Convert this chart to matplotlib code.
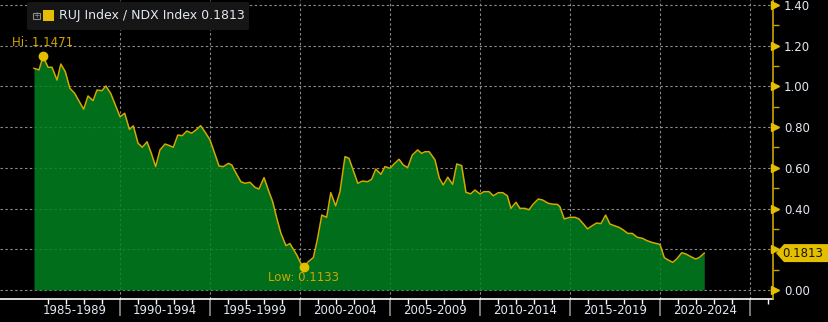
import numpy as np
import matplotlib
matplotlib.use("Agg")
import matplotlib.pyplot as plt
import matplotlib.transforms as mtransforms
from matplotlib.patches import FancyBboxPatch, Rectangle, Polygon

# ---- data ----
years = [1985.22, 1985.50, 1985.72, 1986.00, 1986.22, 1986.50, 1986.71, 1986.96, 1987.21, 1987.48,
         1987.72, 1987.98, 1988.22, 1988.50, 1988.72, 1989.00, 1989.21, 1989.48, 1989.74, 1990.00,
         1990.26, 1990.52, 1990.74, 1991.00, 1991.24, 1991.50, 1991.74, 1991.98, 1992.22, 1992.50,
         1992.72, 1992.96, 1993.21, 1993.46, 1993.71, 1993.98, 1994.22, 1994.48, 1994.72, 1995.00,
         1995.25, 1995.50, 1995.74, 1996.02, 1996.21, 1996.44, 1996.71, 1996.94, 1997.22, 1997.50,
         1997.72, 1998.00, 1998.24, 1998.48, 1998.71, 1998.94, 1999.22, 1999.44, 1999.82, 2000.09,
         2000.22, 2000.46, 2000.74, 2000.96, 2001.21, 2001.48, 2001.71, 2001.98, 2002.22, 2002.50,
         2002.72, 2002.97, 2003.21, 2003.46, 2003.76, 2003.98, 2004.21, 2004.50, 2004.72, 2005.00,
         2005.25, 2005.50, 2005.74, 2005.98, 2006.24, 2006.54, 2006.76, 2006.94, 2007.18, 2007.50,
         2007.74, 2007.96, 2008.21, 2008.48, 2008.71, 2008.98, 2009.22, 2009.48, 2009.72, 2010.00,
         2010.22, 2010.50, 2010.74, 2011.02, 2011.26, 2011.52, 2011.72, 2012.00, 2012.22, 2012.50,
         2012.72, 2012.96, 2013.24, 2013.48, 2013.79, 2014.07, 2014.29, 2014.44, 2014.68, 2015.00,
         2015.28, 2015.50, 2015.75, 2015.98, 2016.24, 2016.48, 2016.72, 2016.98, 2017.22, 2017.46,
         2017.72, 2017.96, 2018.21, 2018.46, 2018.74, 2019.02, 2019.29, 2019.54, 2019.78, 2020.00,
         2020.24, 2020.46, 2020.71, 2020.93, 2021.21, 2021.44, 2021.71, 2021.98, 2022.18, 2022.46]
ratio = [1.089, 1.081, 1.1471, 1.094, 1.094, 1.031, 1.110, 1.072, 0.991, 0.966,
         0.928, 0.888, 0.953, 0.930, 0.982, 0.979, 1.002, 0.966, 0.909, 0.851,
         0.868, 0.789, 0.806, 0.721, 0.701, 0.728, 0.671, 0.606, 0.688, 0.717,
         0.710, 0.701, 0.761, 0.758, 0.781, 0.770, 0.786, 0.807, 0.776, 0.737,
         0.673, 0.609, 0.606, 0.622, 0.614, 0.575, 0.532, 0.524, 0.529, 0.504,
         0.496, 0.552, 0.491, 0.434, 0.352, 0.278, 0.218, 0.228, 0.172, 0.123,
         0.1133, 0.139, 0.159, 0.246, 0.368, 0.357, 0.478, 0.413, 0.483, 0.655,
         0.647, 0.584, 0.524, 0.535, 0.532, 0.544, 0.594, 0.568, 0.606, 0.598,
         0.621, 0.642, 0.614, 0.601, 0.663, 0.688, 0.671, 0.679, 0.679, 0.639,
         0.549, 0.516, 0.554, 0.519, 0.619, 0.611, 0.480, 0.472, 0.491, 0.472,
         0.483, 0.483, 0.463, 0.478, 0.478, 0.463, 0.401, 0.431, 0.401, 0.401,
         0.394, 0.422, 0.447, 0.442, 0.426, 0.421, 0.421, 0.409, 0.349, 0.357,
         0.357, 0.349, 0.324, 0.300, 0.316, 0.329, 0.326, 0.368, 0.324, 0.316,
         0.308, 0.295, 0.278, 0.278, 0.259, 0.254, 0.242, 0.234, 0.229, 0.224,
         0.159, 0.147, 0.136, 0.152, 0.183, 0.177, 0.164, 0.152, 0.159, 0.1813]

period_labels = ['1985-1989', '1990-1994', '1995-1999', '2000-2004',
                 '2005-2009', '2010-2014', '2015-2019', '2020-2024']
period_starts = [1985, 1990, 1995, 2000, 2005, 2010, 2015, 2020]
y_ticks = [0.0, 0.2, 0.4, 0.6, 0.8, 1.0, 1.2, 1.4]
series_name = 'RUJ Index / NDX Index'
last_value = 0.1813
hi_value = 1.1471
low_value = 0.1133

# ---- styling ----
YEL = '#e3bf00'
LINE = '#d2a900'
TXTGOLD = '#cfa500'
LBL = '#e2e9f3'
GRID = '#8a8a8a'
FILL = '#028421'

W, H = 829, 322
fig = plt.figure(figsize=(W / 100, H / 100), dpi=100, facecolor='black')
ax = fig.add_axes([0, 23 / H, 773 / W, 299 / H])
ax.set_facecolor('black')
ax.set_xlim(1983.33, 2026.28)
ax.set_ylim(-0.0442, 1.4244)

x = np.array(years)
y = np.array(ratio)

ax.set_axisbelow(True)
ax.fill_between(x, 0, y, color=FILL, alpha=0.84, linewidth=0, zorder=2)
ax.plot(x, y, color=LINE, lw=1.1, zorder=3)

# grid
ax.set_yticks(y_ticks)
ax.set_xticks([s for s in period_starts[1:]] + [2025])
ax.grid(True, which='major', color=GRID, linestyle=(0, (2.2, 2.2)), linewidth=0.8)

# spines
for s in ['left', 'top']:
    ax.spines[s].set_visible(False)
ax.spines['bottom'].set_color('white')
ax.spines['bottom'].set_linewidth(1.2)
ax.spines['right'].set_color('#c9a400')
ax.spines['right'].set_linewidth(1.2)
ax.spines['right'].set_zorder(4)


# y axis on right; the label nearest the last-value tag is covered by the tag
def ylab(v, pos):
    if abs(v - 0.2) < 1e-9:
        return ''
    return f'{v:.2f}'


ax.yaxis.tick_right()
ax.yaxis.set_major_formatter(matplotlib.ticker.FuncFormatter(ylab))
ax.tick_params(axis='y', which='major', length=0, pad=8, labelsize=8.5, labelcolor=LBL)
ax.set_yticks([0.1, 0.3, 0.5, 0.7, 0.9, 1.1, 1.3], minor=True)
ax.tick_params(axis='y', which='minor', length=4, width=1, color='#c9a400', direction='out')
tr = mtransforms.blended_transform_factory(ax.transAxes, ax.transData) + \
    mtransforms.ScaledTranslation(2.5 / 100, 0, fig.dpi_scale_trans)
ax.plot([1.0] * len(y_ticks), y_ticks, linestyle='none', marker='>', ms=5.5,
        color=YEL, transform=tr, clip_on=False, zorder=5)

# x axis
ax.tick_params(axis='x', which='major', length=12, width=1.1, color='#9a9a9a',
               labelbottom=False, direction='out')
minor_years = [yr for yr in range(1986, 2027) if yr % 5 != 0]
ax.set_xticks(minor_years, minor=True)
ax.tick_params(axis='x', which='minor', length=3.5, width=1, color='white', direction='out')
xtr = mtransforms.blended_transform_factory(ax.transData, ax.transAxes) + \
    mtransforms.ScaledTranslation(0, -12 / 100, fig.dpi_scale_trans)
for lab, st in zip(period_labels, period_starts):
    ax.text(st + 2.5, 0, lab, transform=xtr, ha='center', va='center',
            fontsize=8.5, color=LBL, clip_on=False)

# hi / low annotations
i_hi = int(np.argmax(y))
i_lo = int(np.argmin(y))
ax.plot([x[i_hi]], [y[i_hi]], 'o', color=YEL, ms=6, zorder=6)
ax.plot([x[i_lo]], [y[i_lo]], 'o', color=YEL, ms=6, zorder=6)
ax.annotate(f'Hi: {hi_value:.4f}', (x[i_hi], y[i_hi]), xytext=(0, 7),
            textcoords='offset pixels', ha='center', va='bottom',
            fontsize=8.5, color=TXTGOLD, zorder=6)
ax.annotate(f'Low: {low_value:.4f}', (x[i_lo], y[i_lo]), xytext=(0, -4),
            textcoords='offset pixels', ha='center', va='top',
            fontsize=8.5, color=TXTGOLD, zorder=6)


# last value tag on right
def fx(px):
    return px / W


def fy(py):
    return (H - py) / H


yc = fig.transFigure.inverted().transform(ax.transData.transform((2000, last_value)))[1]
hh = 9 / H
tag = Polygon([(fx(776), yc), (fx(784), yc + hh), (fx(829), yc + hh),
               (fx(829), yc - hh), (fx(784), yc - hh)],
              closed=True, transform=fig.transFigure, facecolor=YEL, edgecolor='none')
fig.patches.append(tag)
fig.text(fx(803), yc, f'{last_value:.4f}', ha='center', va='center',
         fontsize=8.5, color='#1a1400')

# legend box
box = FancyBboxPatch((fx(27), fy(30)), fx(222), 28 / H,
                     boxstyle='round,pad=0,rounding_size=0.004',
                     transform=fig.transFigure, facecolor='#161616', edgecolor='none')
fig.patches.append(box)
fig.patches.append(Rectangle((fx(33), fy(19)), fx(7), 6 / H, transform=fig.transFigure,
                             facecolor='none', edgecolor='#8a8a8a', linewidth=0.8))
fig.text(fx(36.5), fy(16), '+', ha='center', va='center', fontsize=5.5, color='#8a8a8a')
fig.patches.append(Rectangle((fx(43), fy(21)), fx(11), 11 / H, transform=fig.transFigure,
                             facecolor=YEL, edgecolor='none'))
fig.text(fx(59), fy(16), f'{series_name} {last_value:.4f}', ha='left', va='center',
         fontsize=9, color=LBL)

fig.savefig('out.png', dpi=100, facecolor='black')
